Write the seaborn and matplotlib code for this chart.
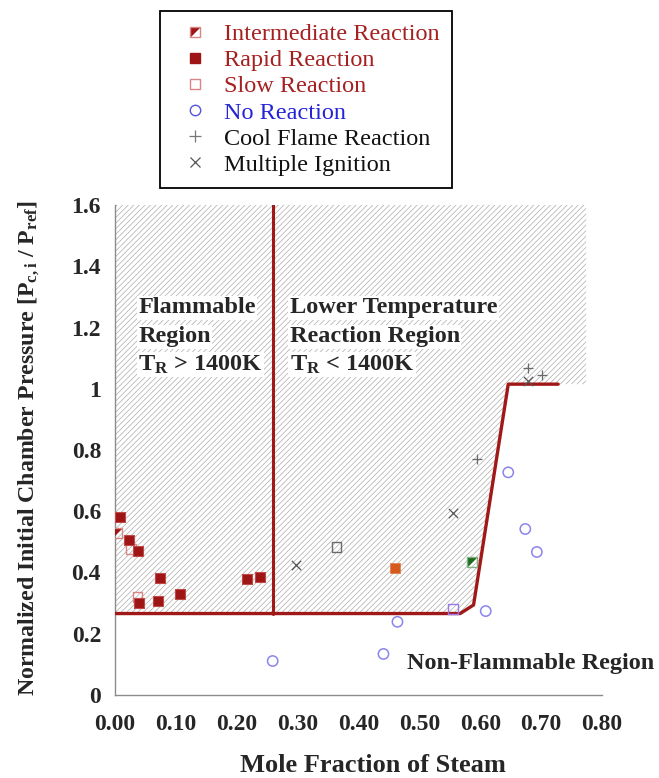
import matplotlib
matplotlib.use("Agg")
import matplotlib.pyplot as plt
import seaborn as sns
import numpy as np
import pandas as pd
from matplotlib.lines import Line2D
from matplotlib.patches import Polygon
from matplotlib.legend_handler import HandlerTuple
from matplotlib.ticker import MultipleLocator, FuncFormatter

# ---------------- data ----------------
rapid_x = [0.009, 0.023, 0.037, 0.074, 0.039, 0.071, 0.107, 0.217, 0.239]
rapid_y = [0.582, 0.506, 0.470, 0.381, 0.301, 0.307, 0.330, 0.379, 0.386]
slow_x = [0.026, 0.037]
slow_y = [0.476, 0.319]
inter_x = [0.003]
inter_y = [0.530]
noreac_x = [0.259, 0.441, 0.464, 0.609, 0.646, 0.674, 0.693]
noreac_y = [0.111, 0.134, 0.239, 0.274, 0.727, 0.542, 0.467]
cool_x = [0.594, 0.678, 0.701]
cool_y = [0.770, 1.067, 1.045]
multi_x = [0.298, 0.555, 0.678]
multi_y = [0.424, 0.595, 1.026]
gray_slow_x = [0.364]
gray_slow_y = [0.482]
orange_rapid_x = [0.460]
orange_rapid_y = [0.414]
green_inter_x = [0.586]
green_inter_y = [0.433]
purple_slow_x = [0.555]
purple_slow_y = [0.281]

bound_x = [0.0, 0.567, 0.589, 0.646, 0.728]
bound_y = [0.266, 0.266, 0.294, 1.015, 1.015]
divider_x = [0.259, 0.259]
divider_y = [0.266, 1.6]
hatch_x = [0.0, 0.567, 0.589, 0.646, 0.774, 0.774, 0.0]
hatch_y = [0.266, 0.266, 0.294, 1.015, 1.015, 1.6, 1.6]

legend_labels = ["Intermediate Reaction", "Rapid Reaction", "Slow Reaction",
                 "No Reaction", "Cool Flame Reaction", "Multiple Ignition"]
xticks = [0.0, 0.1, 0.2, 0.3, 0.4, 0.5, 0.6, 0.7, 0.8]
yticks = [0, 0.2, 0.4, 0.6, 0.8, 1.0, 1.2, 1.4, 1.6]

# ---------------- style ----------------
sns.set_theme(style="white")
plt.rcParams['font.family'] = ['Liberation Serif', 'DejaVu Serif']
plt.rcParams['font.weight'] = 'normal'
plt.rcParams['mathtext.fontset'] = 'custom'
plt.rcParams['mathtext.rm'] = 'Liberation Serif:bold'
plt.rcParams['mathtext.bf'] = 'Liberation Serif:bold'
plt.rcParams['mathtext.it'] = 'Liberation Serif:bold:italic'
plt.rcParams['hatch.linewidth'] = 0.5

DARKRED = '#9e1515'
LINERED = '#a01818'
SLOWRED = '#d98585'
CIRC = '#8a84ee'
GRAYM = '#6a6a6a'

fig = plt.figure(figsize=(6.59, 7.78), dpi=100)
ax = fig.add_axes([115/659, 1 - 695/778, 487/659, 490/778])

# hatched region
ax.add_patch(Polygon(np.column_stack([hatch_x, hatch_y]), closed=True,
                     facecolor='white', edgecolor='#acacac', hatch='//////',
                     linewidth=0, zorder=0))

# boundary lines
sns.lineplot(x=bound_x, y=bound_y, sort=False, estimator=None, color=LINERED,
             linewidth=2.4, ax=ax, zorder=3)
sns.lineplot(x=divider_x, y=divider_y, sort=False, estimator=None, color=LINERED,
             linewidth=2.2, ax=ax, zorder=3)

tri = [(-1, 1), (1, 1), (-1, -1), (-1, 1)]
S_SQ = 60

# rapid
sns.scatterplot(x=rapid_x, y=rapid_y, marker='s', s=S_SQ, color=DARKRED,
                edgecolor='#c04a4a', linewidth=0.8, ax=ax, zorder=5, legend=False)
sns.scatterplot(x=orange_rapid_x, y=orange_rapid_y, marker='s', s=50, color='#d65a1e',
                edgecolor='#e08050', linewidth=0.6, ax=ax, zorder=5, legend=False)
# slow (open squares)
sns.scatterplot(x=slow_x, y=slow_y, marker='s', s=50, facecolor='none',
                edgecolor=SLOWRED, linewidth=1.0, ax=ax, zorder=4, legend=False)
sns.scatterplot(x=gray_slow_x, y=gray_slow_y, marker='s', s=50, facecolor='none',
                edgecolor=GRAYM, linewidth=1.0, ax=ax, zorder=4, legend=False)
sns.scatterplot(x=purple_slow_x, y=purple_slow_y, marker='s', s=50, facecolor='none',
                edgecolor='#9a7ae6', linewidth=1.0, ax=ax, zorder=4, legend=False)
# intermediate (half filled squares)
sns.scatterplot(x=inter_x, y=inter_y, marker=tri, s=50, color=DARKRED,
                linewidth=0, ax=ax, zorder=5, legend=False)
sns.scatterplot(x=inter_x, y=inter_y, marker='s', s=50, facecolor='none',
                edgecolor=SLOWRED, linewidth=1.0, ax=ax, zorder=5, legend=False)
sns.scatterplot(x=green_inter_x, y=green_inter_y, marker=tri, s=50, color='#1d6a1d',
                linewidth=0, ax=ax, zorder=5, legend=False)
sns.scatterplot(x=green_inter_x, y=green_inter_y, marker='s', s=50, facecolor='none',
                edgecolor='#80b080', linewidth=1.0, ax=ax, zorder=5, legend=False)
# no reaction
sns.scatterplot(x=noreac_x, y=noreac_y, marker='o', s=55, facecolor='none',
                edgecolor=CIRC, linewidth=1.1, ax=ax, zorder=4, legend=False)
# cool flame
sns.scatterplot(x=cool_x, y=cool_y, marker='+', s=55, color=GRAYM,
                linewidth=0.9, ax=ax, zorder=4, legend=False)
# multiple ignition
sns.scatterplot(x=multi_x, y=multi_y, marker='x', s=45, color='#555555',
                linewidth=0.9, ax=ax, zorder=4, legend=False)

# ---------------- axes ----------------
ax.set_xlim(0, 0.8)
ax.set_ylim(0, 1.6)
ax.set_xticks(xticks)
ax.set_yticks(yticks)
ax.xaxis.set_minor_locator(MultipleLocator(0.02))
ax.yaxis.set_minor_locator(MultipleLocator(0.05))
ax.xaxis.set_major_formatter(FuncFormatter(lambda v, p: f"{v:.2f}"))
ax.yaxis.set_major_formatter(FuncFormatter(lambda v, p: f"{v:g}"))
for s in ['top', 'right']:
    ax.spines[s].set_visible(False)
for s in ['left', 'bottom']:
    ax.spines[s].set_color('#8c8c8c')
    ax.spines[s].set_linewidth(1.0)
ax.tick_params(axis='both', which='major', direction='in', length=6, width=0.8,
               color='#8c8c8c', labelsize=17)
ax.tick_params(axis='both', which='minor', direction='in', length=3.5, width=0.8,
               color='#8c8c8c')
ax.tick_params(axis='x', which='major', pad=14)
ax.tick_params(axis='y', which='major', pad=10)
for lab in ax.get_xticklabels() + ax.get_yticklabels():
    lab.set_fontweight('bold')
ax.set_facecolor('white')
ax.grid(False)

fig.text(29/659, 1 - 448/778,
         r"Normalized Initial Chamber Pressure [P$_{\mathregular{c,i}}$ / P$_{\mathregular{ref}}$]",
         rotation=90, ha='center', va='center', fontsize=17.2, fontweight='bold')
fig.text(373/659, 1 - 765/778, "Mole Fraction of Steam", ha='center', va='center',
         fontsize=19, fontweight='bold')

# region annotations
bb = dict(facecolor='white', edgecolor='none', pad=1.0)
tkw = dict(fontsize=17.5, fontweight='bold', ha='left', va='center', zorder=6, bbox=bb)
ax.text(0.038, 1.264, "Flammable", **tkw)
ax.text(0.038, 1.169, "Region", **tkw)
ax.text(0.038, 1.078, r"T$_{\mathregular{R}}$ > 1400K", **tkw)
ax.text(0.287, 1.264, "Lower Temperature", **tkw)
ax.text(0.287, 1.169, "Reaction Region", **tkw)
ax.text(0.287, 1.078, r"T$_{\mathregular{R}}$ < 1400K", **tkw)
ax.text(0.480, 0.104, "Non-Flammable Region", fontsize=17.5, fontweight='bold',
        ha='left', va='center', zorder=6)

# ---------------- legend ----------------
h_int = (Line2D([], [], ls='none', marker=tri, markersize=7, color=DARKRED, markeredgewidth=0),
         Line2D([], [], ls='none', marker='s', markersize=7, markerfacecolor='none',
                markeredgecolor=SLOWRED, markeredgewidth=1.0))
h_rap = Line2D([], [], ls='none', marker='s', markersize=7.5, color=DARKRED)
h_slow = Line2D([], [], ls='none', marker='s', markersize=7, markerfacecolor='none',
                markeredgecolor=SLOWRED, markeredgewidth=1.0)
h_no = Line2D([], [], ls='none', marker='o', markersize=7.5, markerfacecolor='none',
              markeredgecolor='#5555dd', markeredgewidth=1.0)
h_cool = Line2D([], [], ls='none', marker='+', markersize=8, color='#777777', markeredgewidth=0.9)
h_multi = Line2D([], [], ls='none', marker='x', markersize=7, color='#555555', markeredgewidth=0.9)

leg = fig.legend([h_int, h_rap, h_slow, h_no, h_cool, h_multi], legend_labels,
                 handler_map={tuple: HandlerTuple(ndivide=1)},
                 loc='upper left', bbox_to_anchor=(160/659, 1 - 11/778),
                 bbox_transform=fig.transFigure,
                 fontsize=17.5, frameon=True, fancybox=False, shadow=False,
                 labelspacing=0.17, handlelength=1.9, handletextpad=0.25,
                 borderpad=0.5, borderaxespad=0, markerscale=1.0)
leg.get_frame().set_edgecolor('black')
leg.get_frame().set_linewidth(1.3)
leg.get_frame().set_alpha(1)
text_colors = ['#a52020', '#a52020', '#a52020', '#2424d8', '#111111', '#111111']
for t, c in zip(leg.get_texts(), text_colors):
    t.set_color(c)

fig.savefig("out.png", dpi=100, facecolor='white')
